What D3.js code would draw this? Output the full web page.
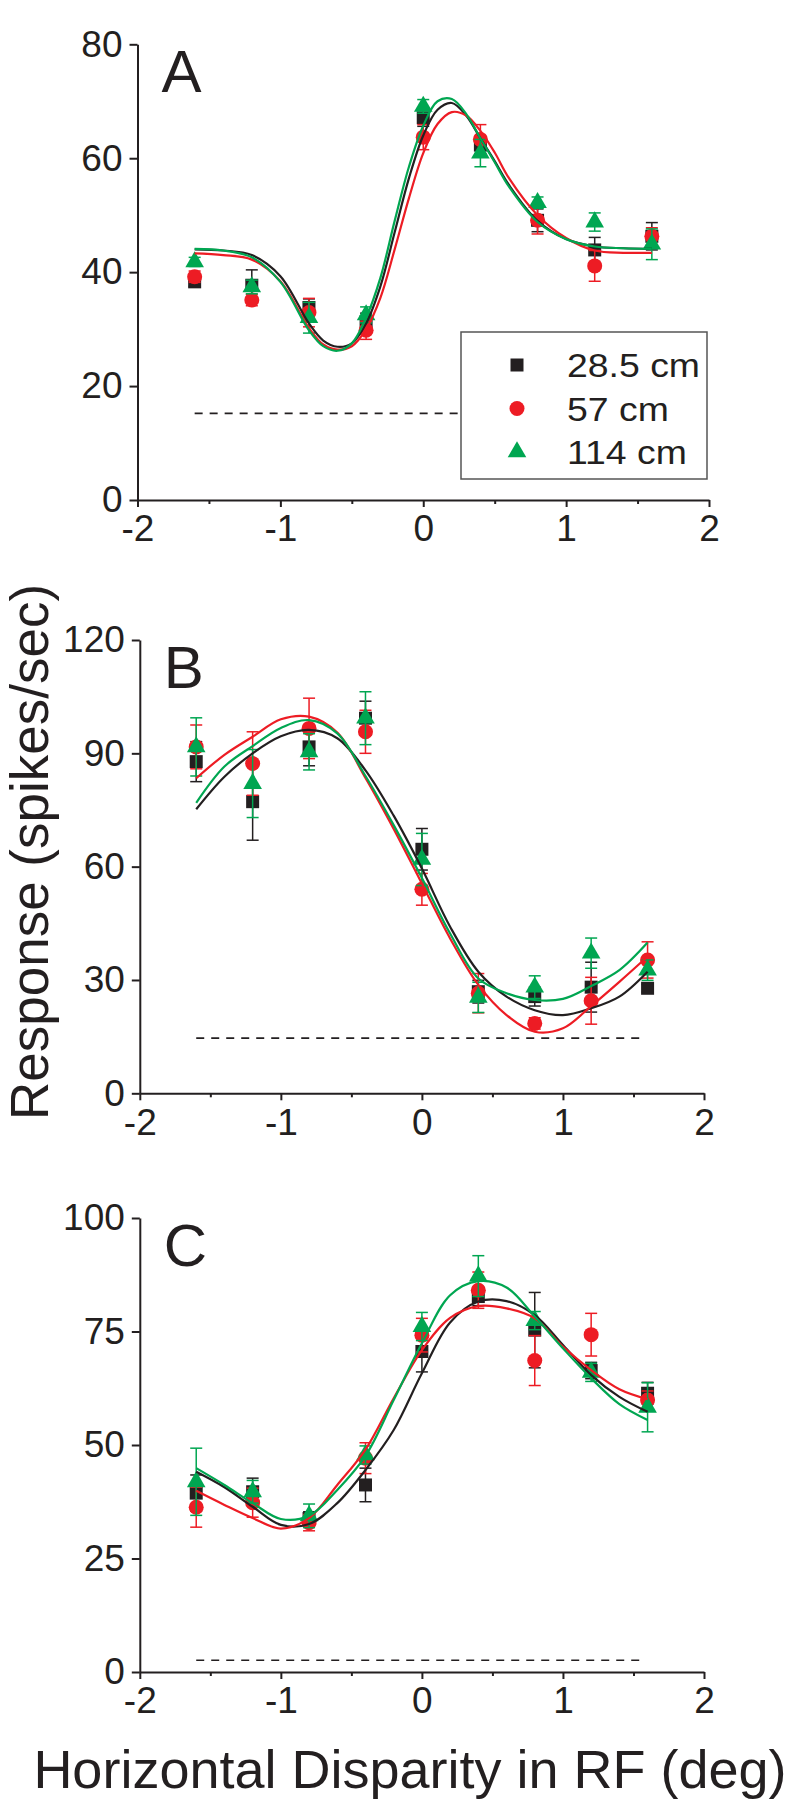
<!DOCTYPE html>
<html><head><meta charset="utf-8">
<script src="https://cdn.jsdelivr.net/npm/d3@7"></script>
<style>
body{margin:0;background:#fff}
svg{display:block}
text{font-family:"Liberation Sans",Arial,Helvetica,sans-serif;fill:#231f20}
</style>
</head><body>
<svg id="chart" width="800" height="1811"></svg>
<script>
// ---------- shared data ----------
const seriesNames = ["28.5 cm", "57 cm", "114 cm"];
const seriesColors = ["#231f20", "#ed1c24", "#00a651"];
const seriesShapes = ["square", "circle", "triangle"];
const disparity = [-1.6, -1.2, -0.8, -0.4, 0, 0.4, 0.8, 1.2, 1.6];
const xTickValues = [-2, -1, 0, 1, 2];
const xTickLabels = ["-2", "-1", "0", "1", "2"];
const xMinorTicks = [-1.5, -0.5, 0.5, 1.5];
const xTitle = "Horizontal Disparity in RF (deg)";
const yTitle = "Response (spikes/sec)";

// ---------- panel A ----------
const aYTicks = [0, 20, 40, 60, 80];
const aYLabels = ["0", "20", "40", "60", "80"];
const aBlack = [38.3, 37.7, 33.8, 31.3, 67.1, 62.3, 49.1, 43.9, 46.3];
const aBlackErr = [0.8, 2.7, 1.5, 1.5, 1.5, 1.5, 2.0, 2.2, 2.4];
const aRed = [39.2, 35.1, 32.9, 29.8, 63.7, 63.3, 49.1, 41.1, 46.3];
const aRedErr = [1.0, 1.0, 2.5, 1.6, 2.2, 2.6, 2.4, 2.7, 1.5];
const aGreen = [41.8, 37.4, 32.0, 32.5, 69.1, 60.9, 52.2, 48.8, 44.9];
const aGreenErr = [0.8, 1.2, 2.7, 1.4, 1.2, 2.4, 1.0, 1.6, 2.7];
const aCurveX = [-1.6, -1.4, -1.2, -1.0, -0.8, -0.7, -0.6, -0.5, -0.4, -0.3, -0.2, -0.1, 0, 0.1, 0.2, 0.3, 0.4, 0.5, 0.6, 0.8, 1.0, 1.2, 1.4, 1.6];
const aFitBlack = [44.0, 43.8, 43.0, 39.3, 31.0, 28.0, 26.9, 27.5, 31.0, 37.5, 47.0, 56.5, 64.0, 68.5, 69.7, 67.5, 63.5, 59.5, 55.3, 49.0, 45.8, 44.5, 44.2, 44.1];
const aFitRed = [43.3, 43.0, 42.2, 38.4, 30.2, 27.3, 26.4, 27.0, 30.0, 35.5, 44.0, 53.0, 60.9, 66.0, 68.1, 67.5, 64.8, 61.0, 56.5, 50.0, 46.0, 43.8, 43.4, 43.4];
const aFitGreen = [44.1, 43.8, 42.6, 38.3, 29.8, 27.0, 26.2, 27.5, 32.0, 39.0, 49.0, 58.5, 65.7, 70.0, 70.4, 67.8, 63.5, 59.3, 55.0, 48.8, 45.8, 44.5, 44.2, 44.1];
const aSpontaneous = 15.2;

// ---------- panel B ----------
const bYTicks = [0, 30, 60, 90, 120];
const bYLabels = ["0", "30", "60", "90", "120"];
const bBlack = [87.8, 77.2, 91.7, 99.3, 64.6, 26.9, 25.6, 28.1, 27.8];
const bBlackErr = [5.3, 10.2, 5.0, 4.5, 5.5, 3.0, 2.5, 6.6, 1.0];
const bRed = [91.7, 87.3, 96.6, 95.7, 54.0, 26.5, 18.5, 24.5, 35.3];
const bRedErr = [5.8, 8.4, 8.0, 5.7, 4.2, 5.2, 1.5, 6.2, 4.8];
const bGreen = [91.7, 82.0, 90.4, 99.3, 61.9, 25.4, 28.1, 37.1, 32.6];
const bGreenErr = [7.7, 9.0, 4.8, 7.0, 6.9, 4.0, 3.0, 4.0, 2.7];
const bCurveX = [-1.6, -1.4, -1.2, -1.0, -0.8, -0.6, -0.4, -0.2, 0, 0.2, 0.4, 0.6, 0.8, 1.0, 1.2, 1.4, 1.6];
const bFitBlack = [75.2, 83.8, 90.0, 94.5, 96.2, 94.0, 85.5, 73.5, 59.5, 44.1, 32.2, 25.6, 22.0, 20.7, 22.5, 25.6, 32.2];
const bFitRed = [83.4, 89.6, 94.4, 99.0, 99.7, 95.5, 83.5, 70.0, 55.5, 41.0, 28.7, 20.7, 16.3, 17.2, 23.1, 29.5, 36.2];
const bFitGreen = [76.9, 86.5, 91.9, 96.7, 98.8, 95.3, 84.0, 71.0, 57.0, 42.3, 30.4, 26.5, 24.7, 25.0, 28.4, 32.6, 39.9];
const bSpontaneous = 14.6;

// ---------- panel C ----------
const cYTicks = [0, 25, 50, 75, 100];
const cYLabels = ["0", "25", "50", "75", "100"];
const cBlack = [39.4, 39.7, 33.8, 41.2, 70.6, 82.7, 75.3, 66.4, 61.4];
const cBlackErr = [4.0, 3.0, 1.5, 3.7, 4.5, 2.0, 8.3, 1.8, 2.4];
const cRed = [36.3, 37.3, 32.9, 47.1, 74.2, 84.1, 68.6, 74.3, 59.9];
const cRedErr = [4.4, 3.2, 1.8, 3.4, 3.7, 4.0, 5.5, 4.7, 2.0];
const cGreen = [41.9, 39.7, 34.4, 47.8, 76.1, 87.2, 77.4, 66.0, 58.3];
const cGreenErr = [7.4, 2.5, 2.6, 2.0, 3.1, 4.5, 2.0, 2.0, 5.4];
const cCurveX = [-1.6, -1.4, -1.2, -1.0, -0.8, -0.6, -0.4, -0.2, 0, 0.2, 0.4, 0.6, 0.8, 1.0, 1.2, 1.4, 1.6];
const cFitBlack = [44.1, 40.7, 36.4, 32.4, 32.6, 37.2, 44.5, 53.3, 65.8, 77.0, 81.6, 81.7, 78.6, 72.0, 65.4, 60.6, 57.3];
const cFitRed = [39.9, 36.8, 33.9, 31.6, 33.9, 41.2, 49.0, 60.3, 70.9, 78.0, 80.6, 80.1, 77.9, 71.7, 66.5, 62.3, 60.1];
const cFitGreen = [44.9, 41.2, 37.2, 33.7, 34.4, 40.1, 47.6, 59.9, 72.4, 83.0, 86.1, 84.7, 78.3, 71.3, 64.7, 59.0, 55.5];
const cSpontaneous = 2.6;

// ---------- build panels ----------
const panels = [
  { letter: "A", yTicks: aYTicks, yLabels: aYLabels, means: [aBlack, aRed, aGreen], errs: [aBlackErr, aRedErr, aGreenErr],
    curveX: aCurveX, fits: [aFitBlack, aFitRed, aFitGreen], spont: aSpontaneous,
    box: { left: 137.5, right: 709, top: 44.3, bottom: 500 }, legend: true },
  { letter: "B", yTicks: bYTicks, yLabels: bYLabels, means: [bBlack, bRed, bGreen], errs: [bBlackErr, bRedErr, bGreenErr],
    curveX: bCurveX, fits: [bFitBlack, bFitRed, bFitGreen], spont: bSpontaneous,
    box: { left: 139.8, right: 704, top: 640, bottom: 1093.3 }, legend: false },
  { letter: "C", yTicks: cYTicks, yLabels: cYLabels, means: [cBlack, cRed, cGreen], errs: [cBlackErr, cRedErr, cGreenErr],
    curveX: cCurveX, fits: [cFitBlack, cFitRed, cFitGreen], spont: cSpontaneous,
    box: { left: 139.8, right: 704, top: 1218, bottom: 1672 }, legend: false }
];

const svg = d3.select("#chart");
const ink = "#231f20";
const markerSize = { square: 169, circle: 177, triangle: 150 };
const symbolType = { square: d3.symbolSquare, circle: d3.symbolCircle, triangle: d3.symbolTriangle };

panels.forEach(p => {
  const x = d3.scaleLinear().domain([xTickValues[0], xTickValues[xTickValues.length - 1]]).range([p.box.left, p.box.right]);
  const y = d3.scaleLinear().domain([p.yTicks[0], p.yTicks[p.yTicks.length - 1]]).range([p.box.bottom, p.box.top]);
  const g = svg.append("g");

  // x axis major
  const xAxis = d3.axisBottom(x).tickValues(xTickValues).tickFormat((d, i) => xTickLabels[i])
    .tickSize(7).tickSizeOuter(0).tickPadding(8);
  const gx = g.append("g").attr("transform", `translate(0,${p.box.bottom})`).call(xAxis);
  gx.selectAll("text").style("font-size", "37px").attr("fill", ink);
  gx.selectAll("line, path").attr("stroke", ink).attr("stroke-width", 2);
  // minor ticks
  const xMinor = d3.axisBottom(x).tickValues(xMinorTicks).tickFormat("").tickSize(4).tickSizeOuter(0);
  const gxm = g.append("g").attr("transform", `translate(0,${p.box.bottom})`).call(xMinor);
  gxm.select("path").remove();
  gxm.selectAll("line").attr("stroke", ink).attr("stroke-width", 2);

  // y axis
  const yAxis = d3.axisLeft(y).tickValues(p.yTicks).tickFormat((d, i) => p.yLabels[i])
    .tickSize(8).tickSizeOuter(0).tickPadding(7);
  const gy = g.append("g").attr("transform", `translate(${p.box.left},0)`).call(yAxis);
  gy.selectAll("text").style("font-size", "37px").attr("fill", ink);
  gy.selectAll("line, path").attr("stroke", ink).attr("stroke-width", 2);

  // spontaneous rate dashed line
  g.append("line")
    .attr("x1", x(disparity[0])).attr("x2", x(disparity[disparity.length - 1] - 0.02))
    .attr("y1", y(p.spont)).attr("y2", y(p.spont))
    .attr("stroke", ink).attr("stroke-width", 1.6).attr("stroke-dasharray", "8,7");

  // error bars + markers
  p.means.forEach((vals, si) => {
    const col = seriesColors[si];
    const gs = g.append("g");
    vals.forEach((v, i) => {
      const cx = x(disparity[i]);
      const e = p.errs[si][i];
      gs.append("line").attr("x1", cx).attr("x2", cx).attr("y1", y(v - e)).attr("y2", y(v + e))
        .attr("stroke", col).attr("stroke-width", 1.5);
      [v - e, v + e].forEach(w => {
        gs.append("line").attr("x1", cx - 6).attr("x2", cx + 6).attr("y1", y(w)).attr("y2", y(w))
          .attr("stroke", col).attr("stroke-width", 1.5);
      });
    });
    gs.selectAll("path.m").data(vals).enter().append("path").attr("class", "m")
      .attr("d", d3.symbol().type(symbolType[seriesShapes[si]]).size(markerSize[seriesShapes[si]]))
      .attr("transform", (v, i) => `translate(${x(disparity[i])},${y(v)})`)
      .attr("fill", col);
  });

  // fitted curves
  const line = d3.line().x((d, i) => x(p.curveX[i])).y(d => y(d)).curve(d3.curveCatmullRom.alpha(0.5));
  p.fits.forEach((f, si) => {
    g.append("path").attr("d", line(f)).attr("fill", "none")
      .attr("stroke", seriesColors[si]).attr("stroke-width", 2.2);
  });

  // panel letter
  g.append("text").attr("x", p.box.left + 24).attr("y", p.box.top + 48)
    .style("font-size", "60px").text(p.letter);

  // legend
  if (p.legend) {
    const lg = g.append("g");
    lg.append("rect").attr("x", 461).attr("y", 332).attr("width", 246).attr("height", 147)
      .attr("fill", "#fff").attr("stroke", "#555").attr("stroke-width", 1.5);
    seriesNames.forEach((n, si) => {
      const yy = 365 + si * 43.5;
      lg.append("path")
        .attr("d", d3.symbol().type(symbolType[seriesShapes[si]]).size(markerSize[seriesShapes[si]]))
        .attr("transform", `translate(517,${yy})`).attr("fill", seriesColors[si]);
      lg.append("text").attr("transform", `translate(567,${yy + 12}) scale(1.1,1)`)
        .style("font-size", "34px").text(n);
    });
  }
});

// axis titles
svg.append("text").attr("transform", "translate(48,852) rotate(-90)")
  .attr("text-anchor", "middle").style("font-size", "53px").text(yTitle);
svg.append("text").attr("x", 410).attr("y", 1788)
  .attr("text-anchor", "middle").style("font-size", "54px").text(xTitle);
</script>
</body></html>
